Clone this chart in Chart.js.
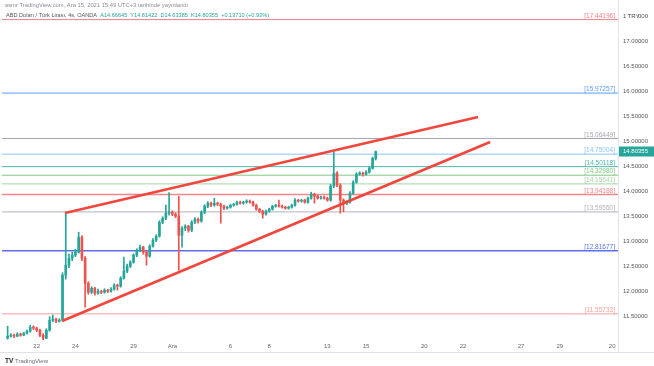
<!DOCTYPE html>
<html>
<head>
<meta charset="utf-8">
<script src="https://cdn.jsdelivr.net/npm/chart.js@4.4.0/dist/chart.umd.min.js"></script>
<style>
  html, body { margin: 0; padding: 0; background: #fff; }
  #wrap { width: 654px; height: 366px; }
</style>
</head>
<body>
<div id="wrap"><canvas id="chart" width="654" height="366"></canvas></div>
<script>
// USD/TRY 4h candles (OANDA), Nov 19 - Dec 15 2021
const opens = [
  11.07, 11.11, 11.13, 11.11, 11.15, 11.13, 11.17, 11.21, 11.29, 11.27,
  11.23, 11.13, 11.07, 11.23, 11.43, 11.45, 11.41, 11.43, 12.33, 12.53,
  12.67, 12.73, 12.79, 13.09, 12.67, 12.17, 11.99, 12.07, 11.97, 12.01,
  11.99, 12.03, 12.01, 12.05, 12.13, 12.11, 12.27, 12.41, 12.51, 12.59,
  12.73, 12.83, 12.89, 12.79, 12.71, 12.91, 13.03, 13.11, 13.39, 13.47,
  13.57, 13.59, 13.55, 13.51, 13.13, 13.27, 13.31, 13.23, 13.39, 13.45,
  13.41, 13.59, 13.71, 13.77, 13.73, 13.77, 13.75, 13.71, 13.67, 13.69,
  13.73, 13.75, 13.79, 13.77, 13.79, 13.81, 13.79, 13.73, 13.65, 13.61,
  13.55, 13.61, 13.65, 13.71, 13.73, 13.71, 13.69, 13.67, 13.69, 13.73,
  13.83, 13.81, 13.83, 13.79, 13.87, 13.95, 13.91, 13.87, 13.89, 13.87,
  13.83, 14.11, 14.37, 14.13, 13.83, 13.77, 13.79, 13.97, 14.19, 14.35,
  14.37, 14.35, 14.39, 14.47, 14.66645
];
const highs = [
  11.31, 11.16, 11.15, 11.18, 11.17, 11.19, 11.23, 11.33, 11.32, 11.29,
  11.25, 11.16, 11.26, 11.50, 11.53, 11.47, 11.46, 12.38, 13.59, 12.75,
  12.79, 12.85, 13.19, 13.12, 12.70, 12.20, 12.10, 12.09, 12.05, 12.03,
  12.06, 12.05, 12.08, 12.16, 12.15, 12.30, 12.69, 12.55, 12.62, 12.76,
  12.86, 12.93, 12.91, 12.82, 12.94, 13.06, 13.14, 13.42, 13.50, 13.73,
  13.98, 13.62, 13.58, 13.91, 13.30, 13.34, 13.33, 13.42, 13.48, 13.47,
  13.62, 13.74, 13.80, 13.79, 13.87, 13.79, 13.77, 13.73, 13.71, 13.75,
  13.77, 13.81, 13.81, 13.81, 13.84, 13.83, 13.81, 13.75, 13.67, 13.63,
  13.63, 13.67, 13.73, 13.75, 13.83, 13.73, 13.71, 13.71, 13.75, 13.86,
  13.85, 13.85, 13.85, 13.89, 13.99, 13.97, 13.93, 13.91, 13.91, 13.89,
  14.15, 14.79, 14.40, 14.16, 13.86, 13.82, 14.00, 14.22, 14.38, 14.40,
  14.39, 14.42, 14.50, 14.69, 14.81422
];
const lows = [
  11.05, 11.09, 11.08, 11.10, 11.11, 11.12, 11.15, 11.19, 11.24, 11.20,
  11.10, 11.04, 11.06, 11.21, 11.40, 11.38, 11.39, 11.41, 12.25, 12.48,
  12.62, 12.70, 12.77, 12.62, 11.69, 11.95, 11.96, 11.93, 11.95, 11.96,
  11.97, 11.98, 11.99, 12.03, 12.03, 12.09, 12.25, 12.38, 12.48, 12.57,
  12.70, 12.80, 12.75, 12.53, 12.69, 12.89, 13.00, 13.09, 13.36, 13.44,
  13.53, 13.52, 13.48, 12.43, 12.89, 13.22, 13.19, 13.20, 13.36, 13.37,
  13.39, 13.56, 13.68, 13.70, 13.71, 13.72, 13.37, 13.64, 13.65, 13.67,
  13.71, 13.73, 13.75, 13.75, 13.77, 13.77, 13.71, 13.63, 13.58, 13.47,
  13.53, 13.59, 13.63, 13.69, 13.69, 13.67, 13.65, 13.65, 13.67, 13.71,
  13.79, 13.79, 13.77, 13.77, 13.85, 13.77, 13.85, 13.85, 13.85, 13.81,
  13.81, 14.08, 14.10, 13.57, 13.60, 13.74, 13.77, 13.95, 14.17, 14.33,
  14.31, 14.33, 14.37, 14.45, 14.63385
];
const closes = [
  11.11, 11.13, 11.11, 11.15, 11.13, 11.17, 11.21, 11.29, 11.27, 11.23,
  11.13, 11.07, 11.23, 11.43, 11.45, 11.41, 11.43, 12.33, 12.53, 12.67,
  12.73, 12.79, 13.09, 12.67, 12.17, 11.99, 12.07, 11.97, 12.01, 11.99,
  12.03, 12.01, 12.05, 12.13, 12.11, 12.27, 12.41, 12.51, 12.59, 12.73,
  12.83, 12.89, 12.79, 12.71, 12.91, 13.03, 13.11, 13.39, 13.47, 13.57,
  13.59, 13.55, 13.51, 13.13, 13.27, 13.31, 13.23, 13.39, 13.45, 13.41,
  13.59, 13.71, 13.77, 13.73, 13.77, 13.75, 13.71, 13.67, 13.69, 13.73,
  13.75, 13.79, 13.77, 13.79, 13.81, 13.79, 13.73, 13.65, 13.61, 13.55,
  13.61, 13.65, 13.71, 13.73, 13.71, 13.69, 13.67, 13.69, 13.73, 13.83,
  13.81, 13.83, 13.79, 13.87, 13.95, 13.91, 13.87, 13.89, 13.87, 13.83,
  14.11, 14.37, 14.13, 13.83, 13.77, 13.79, 13.97, 14.19, 14.35, 14.37,
  14.35, 14.39, 14.47, 14.67, 14.80355
];
// time axis in trading days from Nov 22 00:00 (weekends skipped)
const firstCandleDay = -1.5;
const candlesPerDay = 6;
const candleDays = closes.map((_, i) => firstCandleDay + i / candlesPerDay);

const tickDays = [0, 2, 5, 7, 10, 12, 15, 17, 20, 22, 25, 27, 29.7];
const tickLabels = ['22', '24', '29', 'Ara', '6', '8', '13', '15', '20', '22', '27', '29', '20'];
const priceTicks = [11.5, 12, 12.5, 13, 13.5, 14, 14.5, 15, 15.5, 16, 16.5, 17, 17.5];

// horizontal levels
const levelValues = [17.44196, 15.97257, 15.06449, 14.75004, 14.50118, 14.32980, 14.15641, 13.94188, 13.59550, 12.81677, 11.55733];
const levelColors = ['#f47c84', '#5b9cf6', '#a3a6af', '#90c2f5', '#4db6ac', '#81c784', '#a5d6a7', '#f4868a', '#b0b3ba', '#5c6ff0', '#f4a0a0'];
const levelWidths = [1, 1, 1, 1, 1, 1, 1, 1.5, 1, 1.5, 1];

// rising wedge
const upperTrendDays = [1.46, 22.78];
const upperTrendPrices = [13.574, 15.494];
const lowerTrendDays = [1.31, 23.4];
const lowerTrendPrices = [11.414, 14.994];

const lastPrice = 14.80355;
const xMin = -1.79, xMax = 30.0;
const yMin = 11.034, yMax = 17.594;

const UP = '#26a69a', DOWN = '#ef5350';
const candleColors = closes.map((c, i) => c >= opens[i] ? UP : DOWN);

const datasets = [];
levelValues.forEach((v, i) => {
  datasets.push({
    type: 'line', order: 4,
    data: [{ x: xMin, y: v }, { x: xMax, y: v }],
    borderColor: levelColors[i], borderWidth: levelWidths[i],
    pointRadius: 0
  });
});
datasets.push({
  type: 'bar', order: 3, grouped: false,
  data: candleDays.map((d, i) => ({ x: d, y: [lows[i], highs[i]] })),
  backgroundColor: candleColors, barThickness: 1
});
datasets.push({
  type: 'bar', order: 2, grouped: false,
  data: candleDays.map((d, i) => ({ x: d, y: [opens[i], closes[i]] })),
  backgroundColor: candleColors, barThickness: 2, minBarLength: 1
});
datasets.push({
  type: 'line', order: 1,
  data: upperTrendDays.map((d, i) => ({ x: d, y: upperTrendPrices[i] })),
  borderColor: '#f0463c', borderWidth: 2.5, pointRadius: 0
});
datasets.push({
  type: 'line', order: 1,
  data: lowerTrendDays.map((d, i) => ({ x: d, y: lowerTrendPrices[i] })),
  borderColor: '#f0463c', borderWidth: 2.5, pointRadius: 0
});

const FONT = '"Liberation Sans", Arial, sans-serif';

const overlay = {
  id: 'overlay',
  afterDraw(chart) {
    const { ctx, chartArea: a, scales: { y } } = chart;
    ctx.save();

    // frame lines
    ctx.strokeStyle = '#e0e3eb';
    ctx.lineWidth = 1;
    ctx.beginPath();
    ctx.moveTo(a.right + 0.5, 0); ctx.lineTo(a.right + 0.5, 352);
    ctx.moveTo(0, 352.5); ctx.lineTo(654, 352.5);
    ctx.stroke();

    // level labels
    ctx.font = '6.5px ' + FONT;
    ctx.textAlign = 'right';
    ctx.textBaseline = 'bottom';
    levelValues.forEach((v, i) => {
      ctx.fillStyle = levelColors[i];
      ctx.fillText('[' + v.toFixed(5) + ']', a.right - 3, y.getPixelForValue(v) - 0.5);
    });

    // last price box
    const py = y.getPixelForValue(lastPrice);
    ctx.fillStyle = UP;
    ctx.fillRect(a.right + 1, py - 5, 36, 10);
    ctx.fillStyle = '#fff';
    ctx.textAlign = 'left';
    ctx.textBaseline = 'middle';
    ctx.font = '6px ' + FONT;
    ctx.fillText(lastPrice.toFixed(5), a.right + 5, py);

    // currency tag over top tick
    const ty = y.getPixelForValue(17.5);
    ctx.fillStyle = '#fff';
    ctx.fillRect(a.right + 9, ty - 3.5, 11, 7);
    ctx.fillStyle = '#444';
    ctx.fillText('TRY', a.right + 9.5, ty);

    // captions
    ctx.textBaseline = 'middle';
    ctx.font = '5.8px ' + FONT;
    ctx.fillStyle = '#8a8d96';
    ctx.fillText('asmr TradingView.com, Ara 15, 2021 15:49 UTC+3 tarihinde yayınlandı', 5, 5);

    ctx.font = '5.6px ' + FONT;
    let hx = 6;
    const parts = [
      ['ABD Doları / Türk Lirası, 4s, OANDA  ', '#555'],
      ['A14.66645  Y14.81422  D14.63385  K14.80355  +0.13710 (+0.93%)', UP]
    ];
    parts.forEach(([t, c]) => {
      ctx.fillStyle = c;
      ctx.fillText(t, hx, 15.5);
      hx += ctx.measureText(t).width;
    });

    // logo
    ctx.font = 'bold 6.5px ' + FONT;
    ctx.fillStyle = '#131722';
    ctx.fillText('TV', 5, 361);
    ctx.font = '6px ' + FONT;
    ctx.fillStyle = '#6a6d78';
    ctx.fillText('TradingView', 15, 361);

    ctx.restore();
  }
};

new Chart(document.getElementById('chart'), {
  type: 'bar',
  data: { datasets },
  options: {
    responsive: false,
    animation: false,
    layout: { padding: { top: 12, left: 2, right: 0, bottom: 14 } },
    plugins: { legend: { display: false }, tooltip: { enabled: false } },
    scales: {
      x: {
        type: 'linear', min: xMin, max: xMax, offset: false,
        grid: { display: false, drawTicks: false },
        border: { display: false },
        afterBuildTicks: s => { s.ticks = tickDays.map(v => ({ value: v })); },
        afterFit: s => { s.height = 12; },
        ticks: {
          autoSkip: false, maxRotation: 0, padding: 3,
          color: '#666', font: { size: 6, family: FONT },
          callback: (v, i) => tickLabels[i]
        }
      },
      y: {
        position: 'right', min: yMin, max: yMax,
        grid: { display: false, drawTicks: false },
        border: { display: false },
        afterBuildTicks: s => { s.ticks = priceTicks.map(v => ({ value: v })); },
        afterFit: s => { s.width = 36; },
        ticks: {
          padding: 5, color: '#555', font: { size: 6, family: FONT },
          callback: v => Number(v).toFixed(5)
        }
      }
    }
  },
  plugins: [overlay]
});
</script>
</body>
</html>
